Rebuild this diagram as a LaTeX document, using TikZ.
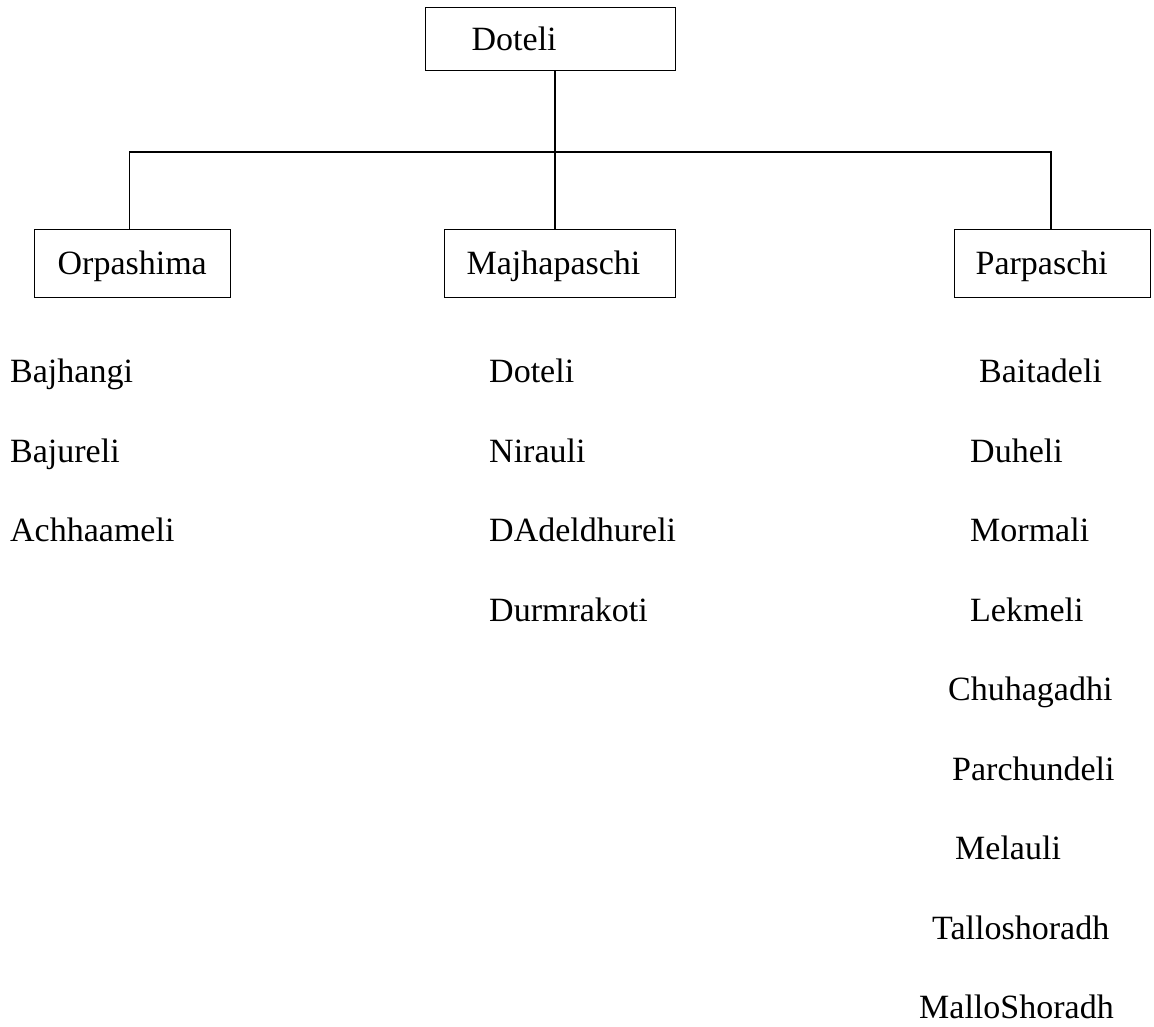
\documentclass[tikz,border=0pt]{standalone}
\usepackage{fontspec}
\setmainfont{Liberation Serif}
\begin{document}
\begin{tikzpicture}[x=1bp,y=-1bp,
  every node/.style={font=\fontsize{34bp}{40bp}\selectfont},
  boxnode/.style={draw, line width=1.3bp, anchor=north west, align=left,
    text height=22bp, text depth=0bp, inner ysep=0pt},
  item/.style={anchor=base west, inner sep=0pt},
  conn/.style={line width=1.1bp}]
\useasboundingbox (0,0) rectangle (1154,1027);
% boxes
\node[boxnode, minimum width=250bp, minimum height=63bp, text width=158bp, inner xsep=46bp] (root) at (425,7) {Doteli};
\node[boxnode, minimum width=196bp, minimum height=68bp, text width=150bp, inner xsep=23bp] (orp) at (34,229) {Orpashima};
\node[boxnode, minimum width=231bp, minimum height=68bp, text width=187bp, inner xsep=22bp] (maj) at (444,229) {Majhapaschi};
\node[boxnode, minimum width=196bp, minimum height=68bp, text width=154bp, inner xsep=21bp] (par) at (954,229) {Parpaschi};
% connectors
\coordinate (jn) at (555,152);
\draw[conn] (root.south -| jn) -- (jn);
\draw[conn] (orp.north -| 129.5,0) |- (jn) -| (par.north -| 1051,0);
\draw[conn] (jn) -- (maj.north -| jn);
% lists
\node[item] (b1) at (10,382) {Bajhangi};
\node[item] (b2) at (10,462) {Bajureli};
\node[item] (b3) at (10,541) {Achhaameli};
\node[item] (m1) at (489,382) {Doteli};
\node[item] (m2) at (489,462) {Nirauli};
\node[item] (m3) at (489,541) {DAdeldhureli};
\node[item] (m4) at (489,621) {Durmrakoti};
\node[item] (p1) at (979,382) {Baitadeli};
\node[item] (p2) at (970,462) {Duheli};
\node[item] (p3) at (970,541) {Mormali};
\node[item] (p4) at (970,621) {Lekmeli};
\node[item] (p5) at (948,700) {Chuhagadhi};
\node[item] (p6) at (952,780) {Parchundeli};
\node[item] (p7) at (955,859) {Melauli};
\node[item] (p8) at (932,939) {Talloshoradh};
\node[item] (p9) at (919,1018) {MalloShoradh};
\end{tikzpicture}
\end{document}
